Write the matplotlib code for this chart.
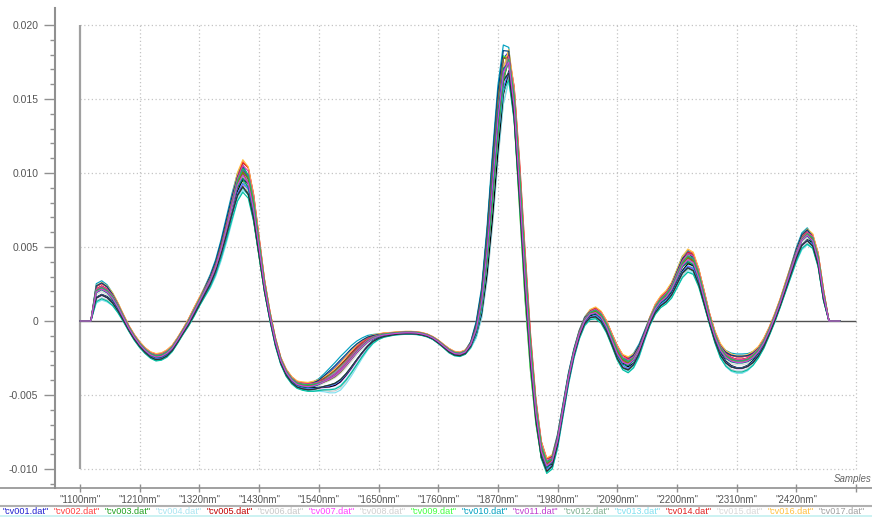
import matplotlib
matplotlib.use("Agg")
import matplotlib.pyplot as plt
from matplotlib.lines import Line2D
import numpy as np

plt.rcParams["font.family"] = ["Liberation Sans", "DejaVu Sans"]

# wavelength grid of the spectra (nm)
wavelength = list(range(1100, 2510, 10))

# mean spectrum (x 1e-3)
mean_spec = [
    0, 0, 0, 1.9, 2.1, 1.9, 1.5, 0.9, 0.2, -0.5,                         # 1100
    -1.1, -1.6, -2.0, -2.3, -2.45, -2.4, -2.2, -1.85, -1.3, -0.7,        # 1200
    -0.1, 0.6, 1.3, 2.0, 2.7, 3.6, 4.8, 6.2, 7.7, 9.1,                   # 1300
    9.8, 9.3, 7.5, 4.9, 2.3, 0.3, -1.4, -2.7, -3.5, -4.0,                # 1400
    -4.3, -4.4, -4.45, -4.4, -4.3, -4.15, -4.0, -3.8, -3.5, -3.1,        # 1500
    -2.65, -2.2, -1.8, -1.45, -1.2, -1.05, -0.95, -0.9, -0.85, -0.82,    # 1600
    -0.8, -0.8, -0.82, -0.88, -0.98, -1.15, -1.4, -1.7, -2.0, -2.2,      # 1700
    -2.25, -2.1, -1.6, -0.6, 1.2, 4.5, 8.8, 13.3, 16.6, 17.4,            # 1800
    14.5, 9.0, 3.0, -2.2, -6.2, -8.8, -9.8, -9.5, -8.1, -6.0,            # 1900
    -3.9, -2.2, -0.9, 0.0, 0.45, 0.55, 0.25, -0.4, -1.3, -2.2,           # 2000
    -2.8, -2.95, -2.65, -2.0, -1.0, 0.0, 0.8, 1.3, 1.6, 2.1,             # 2100
    2.9, 3.7, 4.1, 3.9, 2.9, 1.5, 0.1, -1.1, -2.0, -2.5,                 # 2200
    -2.75, -2.85, -2.85, -2.75, -2.5, -2.1, -1.5, -0.7, 0.2, 1.2,        # 2300
    2.3, 3.4, 4.5, 5.4, 5.75, 5.4, 4.1, 1.7, 0, 0,                       # 2400
    0,                                                                   # 2500
]

# half width of the bundle of curves (x 1e-3)
spread = [
    0, 0, 0, 0.6, 0.6, 0.55, 0.45, 0.35, 0.25, 0.2,
    0.2, 0.2, 0.2, 0.22, 0.25, 0.25, 0.25, 0.22, 0.2, 0.2,
    0.25, 0.3, 0.3, 0.35, 0.4, 0.45, 0.55, 0.7, 0.85, 1.0,
    1.1, 1.0, 0.8, 0.55, 0.35, 0.3, 0.3, 0.25, 0.25, 0.25,
    0.25, 0.28, 0.3, 0.35, 0.4, 0.5, 0.65, 0.8, 0.9, 0.9,
    0.85, 0.75, 0.6, 0.45, 0.3, 0.2, 0.15, 0.12, 0.1, 0.1,
    0.1, 0.1, 0.1, 0.1, 0.1, 0.1, 0.12, 0.12, 0.15, 0.15,
    0.15, 0.15, 0.2, 0.35, 0.5, 0.7, 0.9, 1.0, 1.1, 1.1,
    1.0, 0.9, 0.8, 0.6, 0.5, 0.5, 0.5, 0.5, 0.45, 0.4,
    0.35, 0.3, 0.3, 0.3, 0.35, 0.4, 0.4, 0.4, 0.4, 0.45,
    0.5, 0.55, 0.5, 0.4, 0.3, 0.3, 0.35, 0.4, 0.45, 0.55,
    0.65, 0.75, 0.8, 0.75, 0.6, 0.45, 0.35, 0.4, 0.5, 0.55,
    0.6, 0.6, 0.6, 0.55, 0.5, 0.4, 0.35, 0.3, 0.3, 0.3,
    0.35, 0.4, 0.45, 0.5, 0.55, 0.5, 0.45, 0.35, 0, 0,
    0,
]

# second direction of variation (peak shifts), x 1e-3
twist = [
    0, 0, 0, 0.25, 0.25, 0.2, 0.1, 0.05, 0, 0,
    0, 0, 0, 0, 0, 0, 0, 0, 0, 0,
    0, 0, 0, 0.1, 0.2, 0.3, 0.4, 0.45, 0.4, 0.2,
    0, -0.3, -0.45, -0.4, -0.25, -0.1, 0, 0, 0, 0,
    0, 0, 0, 0.05, 0.15, 0.3, 0.45, 0.55, 0.6, 0.55,
    0.5, 0.4, 0.3, 0.2, 0.1, 0.05, 0, 0, 0, 0,
    0, 0, 0, 0, 0, 0, 0, 0, 0, 0,
    0, 0, 0.1, 0.4, 0.9, 1.7, 2.4, 2.4, 1.6, 0.4,
    -0.6, -1.2, -1.3, -1.0, -0.6, -0.3, -0.1, 0.1, 0.2, 0.2,
    0.2, 0.15, 0.1, 0.1, 0.05, 0, -0.05, -0.1, -0.15, -0.2,
    -0.1, 0.05, 0.15, 0.2, 0.15, 0.05, 0, 0, 0, 0.1,
    0.15, 0.2, 0.1, 0, -0.15, -0.2, -0.15, -0.05, 0.05, 0.15,
    0.2, 0.25, 0.25, 0.2, 0.1, 0.05, 0, 0, 0, 0,
    0, 0.1, 0.2, 0.25, 0.2, 0, -0.15, -0.15, 0, 0,
    0,
]

sample_names = ["cv%03d.dat" % i for i in range(1, 31)]
score_a = [0.6, 0.9, -0.3, -0.8, 0.2, -0.6, 0.4, 0.0, -0.1, 0.7,
           -0.5, 0.3, -0.9, 0.8, -0.4, 1.0, 0.1, -0.2, 0.5, -0.7,
           0.35, -1.0, 0.15, -0.45, 0.65, -0.15, 0.25, -0.65, 0.45, 0.05]
score_b = [0.3, -0.5, 1.0, -0.2, 0.6, -0.8, 0.0, 0.4, 0.9, 0.8,
           -0.3, 0.2, -0.6, -0.9, 0.5, -0.4, 0.1, -0.7, 0.7, 0.3,
           -0.1, 0.0, 0.6, -0.2, -0.6, 0.4, -0.3, 0.2, -0.5, 0.1]
sample_colors = ["#2020d0", "#ff4040", "#20a020", "#a8e4f0", "#c00000",
                 "#c8c8c8", "#ff40ff", "#d0d0d0", "#40ff40", "#00a0c0",
                 "#c040d0", "#80b090", "#80e0f0", "#e02020", "#d8d8d8",
                 "#ffc040", "#a0a0a0", "#000000", "#004080", "#008060",
                 "#6040c0", "#00c0a0", "#806040", "#4080ff", "#e040a0",
                 "#008080", "#808000", "#303030", "#20c060", "#d040e0"]
legend_count = 17  # entries visible along the bottom strip

tick_nm = list(range(1100, 2531, 110))
tick_labels = ['"%dnm"' % t for t in tick_nm[:-1]] + [""]
ytick_vals = [-0.010, -0.005, 0, 0.005, 0.010, 0.015, 0.020]
ytick_labels = ["-0.010", "-0.005", "0", "0.005", "0.010", "0.015", "0.020"]

W, H = 872, 517


def fx(px):
    return px / W


def fy(py):
    return 1 - py / H


PX_NM = 110 / 59.7
VAL_PX = 0.005 / 74

fig = plt.figure(figsize=(W / 100, H / 100), dpi=100)
ax_l, ax_r, ax_t, ax_b = 55, 872, 8, 488
ax = fig.add_axes([fx(ax_l), fy(ax_b), (ax_r - ax_l) / W, (ax_b - ax_t) / H])
ax.set_xlim(1100 - (80 - ax_l) * PX_NM, 1100 + (ax_r - 80) * PX_NM)
ax.set_ylim(-0.010 - (ax_b - 469) * VAL_PX, 0.020 + (25 - ax_t) * VAL_PX)

for s in ["top", "right", "bottom"]:
    ax.spines[s].set_visible(False)
ax.spines["left"].set_color("#909090")
ax.spines["left"].set_linewidth(1.5)

grid_style = dict(colors="#c4c4c4", linestyles=(0, (1, 2)), linewidth=0.9, zorder=1)
ax.hlines([v for v in ytick_vals if v != 0], 1100, 2530, **grid_style)
ax.vlines(tick_nm[1:], -0.010, 0.020, **grid_style)
ax.vlines(1100, -0.010, 0.020, colors="#a0a0a0", linewidth=1.6, zorder=1)
ax.hlines(0, 1100, 2530, colors="#505050", linewidth=1.0, zorder=2)

wl = np.array(wavelength)
m = np.array(mean_spec)
sp = np.array(spread)
tw = np.array(twist)
for k in range(len(sample_names)):
    y = (m + score_a[k] * sp + score_b[k] * tw) * 1e-3
    ax.plot(wl, y, color=sample_colors[k], lw=0.85, zorder=3)

ax.set_xticks(tick_nm)
ax.set_xticklabels(tick_labels)
ax.tick_params(axis="x", direction="inout", length=6, width=1, color="#909090",
               pad=2, labelsize=7, labelcolor="#555555")
ax.set_yticks(ytick_vals)
ax.set_yticklabels(ytick_labels)
ax.set_yticks(np.arange(-11, 21) * 0.001, minor=True)
ax.tick_params(axis="y", which="major", direction="out", length=8, width=1,
               color="#909090", pad=4, labelsize=7.5, labelcolor="#555555")
ax.tick_params(axis="y", which="minor", direction="out", length=3.5, width=1,
               color="#909090")

# bottom axis line, legend separators
fig.add_artist(Line2D([0, 1], [fy(488)] * 2, transform=fig.transFigure,
                      color="#909090", lw=1.2))
fig.add_artist(Line2D([0, 1], [fy(506)] * 2, transform=fig.transFigure,
                      color="#b0b0b0", lw=1.5))
fig.add_artist(Line2D([0, 1], [fy(516)] * 2, transform=fig.transFigure,
                      color="#c4f0f0", lw=1.2))

fig.text(fx(871), fy(479), "Samples", ha="right", va="center",
         style="italic", size=7, color="#666666")

for k in range(legend_count):
    fig.text(fx(3 + 51.0 * k), fy(511), '"%s"' % sample_names[k], ha="left",
             va="center", size=6.6, color=sample_colors[k])

fig.savefig("out.png", dpi=100)
